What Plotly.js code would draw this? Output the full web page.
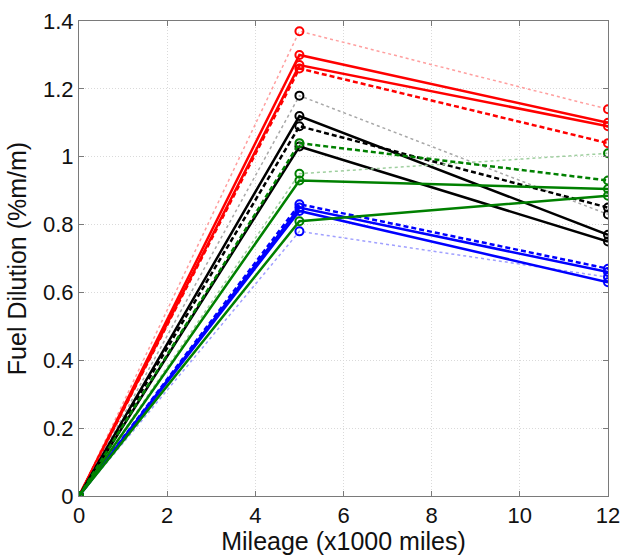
<!DOCTYPE html>
<html><head><meta charset="utf-8">
<script src="https://cdn.plot.ly/plotly-3.0.1.min.js"></script>
<style>html,body{margin:0;padding:0;background:#fff}</style>
</head><body><div id="chart" style="width:621px;height:555px"></div>
<script>
const mileage = [0, 5, 12];
// series values (fuel dilution %m/m)
const redDot    = [0, 1.37, 1.14];
const redSolidA = [0, 1.30, 1.10];
const redSolidB = [0, 1.27, 1.09];
const redDash   = [0, 1.26, 1.04];
const blackDot    = [0, 1.18, 0.83];
const blackSolidA = [0, 1.12, 0.77];
const blackDash   = [0, 1.09, 0.85];
const blackSolidB = [0, 1.03, 0.75];
const blueDash   = [0, 0.86, 0.67];
const blueSolidA = [0, 0.85, 0.66];
const blueSolidB = [0, 0.84, 0.63];
const blueDot    = [0, 0.78, 0.645];
const greenDash   = [0, 1.04, 0.93];
const greenDot    = [0, 0.95, 1.01];
const greenSolidA = [0, 0.93, 0.905];
const greenSolidB = [0, 0.81, 0.885];
const xTicks = [0, 2, 4, 6, 8, 10, 12];
const yTicks = [0, 0.2, 0.4, 0.6, 0.8, 1, 1.2, 1.4];

function tr(y, color, lineColor, dash, width) {
  return {x: mileage, y: y, type: 'scatter', mode: 'lines+markers',
    line: {color: lineColor, dash: dash, width: width},
    marker: {symbol: 'circle-open', size: 8, color: color, line: {width: 2, color: color}},
    showlegend: false, hoverinfo: 'skip'};
}
const data = [
  tr(redDot, '#ff0000', '#ff9e9e', 'dot', 1.5),
  tr(redSolidA, '#ff0000', '#ff0000', 'solid', 2.5),
  tr(redSolidB, '#ff0000', '#ff0000', 'solid', 2.5),
  tr(redDash, '#ff0000', '#ff0000', '5px,3px', 2.5),
  tr(blackDot, '#000000', '#a8a8a8', 'dot', 1.5),
  tr(blackSolidA, '#000000', '#000000', 'solid', 2.5),
  tr(blackDash, '#000000', '#000000', '5px,3px', 2.5),
  tr(blackSolidB, '#000000', '#000000', 'solid', 2.5),
  tr(blueDot, '#0000ff', '#a0a0ff', 'dot', 1.5),
  tr(blueDash, '#0000ff', '#0000ff', '5px,3px', 2.5),
  tr(blueSolidA, '#0000ff', '#0000ff', 'solid', 2.5),
  tr(blueSolidB, '#0000ff', '#0000ff', 'solid', 2.5),
  tr(greenDot, '#008000', '#9fcf9f', 'dot', 1.5),
  tr(greenDash, '#008000', '#008000', '5px,3px', 2.5),
  tr(greenSolidA, '#008000', '#008000', 'solid', 2.5),
  tr(greenSolidB, '#008000', '#008000', 'solid', 2.5)
];
const fam = 'Liberation Sans, Arial, sans-serif';
const axisCommon = {
  showline: true, mirror: 'ticks', linecolor: '#7a7a7a', linewidth: 1,
  ticks: 'inside', ticklen: 5, tickcolor: '#7a7a7a',
  showgrid: true, gridcolor: '#dadada', griddash: '1px,2px', gridwidth: 1,
  zeroline: false, tickfont: {family: fam, size: 22, color: '#111'}
};
const layout = {
  width: 621, height: 555,
  margin: {l: 79, r: 13, t: 21, b: 59},
  paper_bgcolor: '#fff', plot_bgcolor: '#fff',
  xaxis: Object.assign({}, axisCommon, {range: [0, 12], tickvals: xTicks, ticktext: xTicks.map(String),
    ticklabelstandoff: 0,
    title: {text: 'Mileage (x1000 miles)', font: {family: fam, size: 25, color: '#111'}, standoff: 3}}),
  yaxis: Object.assign({}, axisCommon, {range: [0, 1.4], tickvals: yTicks, ticktext: yTicks.map(String),
    title: {text: 'Fuel Dilution (%m/m)', font: {family: fam, size: 25, color: '#111'}, standoff: 9}})
};
Plotly.newPlot('chart', data, layout, {staticPlot: true});
</script></body></html>
